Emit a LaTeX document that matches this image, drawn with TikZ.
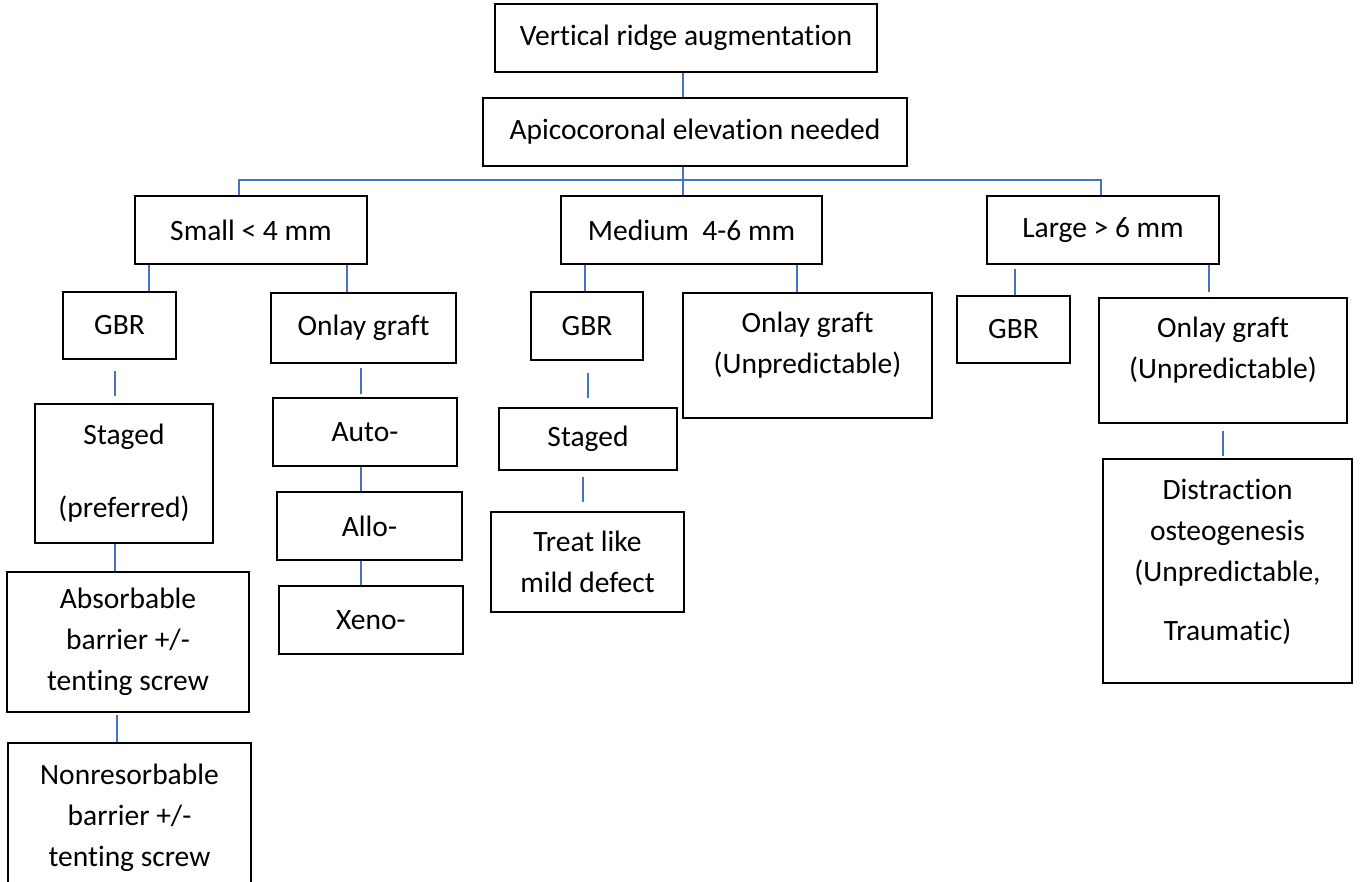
\documentclass[tikz,border=0pt]{standalone}
\usepackage{fontspec}
\setmainfont[Ligatures={NoCommon}]{Carlito}
\definecolor{connblue}{RGB}{68,114,196}
\tikzset{
  box/.style={draw=black, line width=2pt, rectangle, inner sep=0pt, align=center,
    font=\fontsize{29.5}{41}\selectfont},
  conn/.style={draw=connblue, line width=1.6pt}
}
\begin{document}
\begin{tikzpicture}[x=1pt,y=-1pt]
\useasboundingbox (0,0) rectangle (1360,881);
\clip (0,0) rectangle (1360,881);
\fill[white] (0,0) rectangle (1360,881);

% level 0-1
\node[box, minimum width=382, minimum height=68] (vra) at (686,38) {Vertical ridge augmentation};
\node[box, minimum width=424, minimum height=68] (apc) at (695,132) {Apicocoronal elevation needed};

% level 2
\node[box, minimum width=232, minimum height=68] (small) at (251,230) {Small < 4 mm};
\node[box, minimum width=261, minimum height=68] (medium) at (691.5,230) {Medium~ 4-6 mm};
\node[box, minimum width=232, minimum height=68] (large) at (1103,230) {Large > 6 mm};

% level 3
\node[box, minimum width=113, minimum height=67] (gbrS) at (119.5,325.5) {GBR};
\node[box, minimum width=185, minimum height=70] (onlayS) at (363.5,328) {Onlay graft};
\node[box, minimum width=112, minimum height=68] (gbrM) at (587,326) {GBR};
\node[box, minimum width=249, minimum height=125] (onlayM) at (807.5,355.5) {Onlay graft\\(Unpredictable)\\[-16pt]\mbox{}};
\node[box, minimum width=113, minimum height=67] (gbrL) at (1013.5,329.5) {GBR};
\node[box, minimum width=248, minimum height=125] (onlayL) at (1223,360.5) {Onlay graft\\(Unpredictable)\\[-16pt]\mbox{}};

% small branch
\node[box, minimum width=178, minimum height=139] (stagedS) at (124,473.5) {Staged\\[32pt](preferred)};
\node[box, minimum width=242, minimum height=140] (absorb) at (128,642) {Absorbable\\barrier +/-\\tenting screw};
\node[box, minimum width=243, minimum height=150] (nonres) at (129.5,818) {Nonresorbable\\barrier +/-\\tenting screw};
\node[box, minimum width=184, minimum height=68] (auto) at (365,432) {Auto-};
\node[box, minimum width=185, minimum height=68] (allo) at (369.5,526) {Allo-};
\node[box, minimum width=184, minimum height=68] (xeno) at (371,620) {Xeno-};

% medium branch
\node[box, minimum width=178, minimum height=62] (stagedM) at (588,439) {Staged};
\node[box, minimum width=193, minimum height=100] (treat) at (587.5,562) {Treat like\\mild defect};

% large branch
\node[box, minimum width=249, minimum height=224] (distr) at (1227.5,571) {Distraction\\osteogenesis\\(Unpredictable,\\[18pt]Traumatic)\\[-18pt]\mbox{}};

% connectors
\draw[conn] ([xshift=-3pt]vra.south) -- ([xshift=-3pt]vra.south |- apc.north);
\coordinate (busL) at (239,180);
\coordinate (busR) at (1101,180);
\draw[conn] ([xshift=-12pt]apc.south) -- ([xshift=-12pt]apc.south |- medium.north);
\draw[conn] (busL |- small.north) -- (busL) -- (busR) -- (busR |- large.north);

\draw[conn] ([xshift=29.5pt]gbrS.north) -- ([xshift=29.5pt]gbrS.north |- small.south);
\draw[conn] ([xshift=-16.5pt]onlayS.north) -- ([xshift=-16.5pt]onlayS.north |- small.south);
\draw[conn] ([xshift=-9pt,yshift=7pt]stagedS.north) -- ([xshift=-9pt,yshift=-11pt]stagedS.north |- gbrS.south);
\draw[conn] ([xshift=-13pt]absorb.north) -- ([xshift=-13pt]absorb.north |- stagedS.south);
\draw[conn] ([xshift=-12.5pt]nonres.north) -- ([xshift=-12.5pt,yshift=-2pt]nonres.north |- absorb.south);
\draw[conn] ([xshift=-4pt,yshift=3pt]auto.north) -- ([xshift=-4pt,yshift=-4pt]auto.north |- onlayS.south);
\draw[conn] ([xshift=-8.5pt]allo.north) -- ([xshift=-8.5pt]allo.north |- auto.south);
\draw[conn] ([xshift=-10pt]xeno.north) -- ([xshift=-10pt]xeno.north |- allo.south);

\draw[conn] ([xshift=-2pt]gbrM.north) -- ([xshift=-2pt]gbrM.north |- medium.south);
\draw[conn] ([xshift=-10.5pt]onlayM.north) -- ([xshift=-10.5pt]onlayM.north |- medium.south);
\draw[conn] ([yshift=9pt]stagedM.north) -- ([yshift=-12pt]stagedM.north |- gbrM.south);
\draw[conn] ([xshift=-4.5pt,yshift=9pt]treat.north) -- ([xshift=-4.5pt,yshift=-6pt]treat.north |- stagedM.south);

\draw[conn] ([xshift=1.5pt]gbrL.north) -- ([xshift=1.5pt,yshift=-4pt]gbrL.north |- large.south);
\draw[conn] ([xshift=-14pt,yshift=5pt]onlayL.north) -- ([xshift=-14pt]onlayL.north |- large.south);
\draw[conn] ([xshift=-4.5pt,yshift=2pt]distr.north) -- ([xshift=-4.5pt,yshift=-7pt]distr.north |- onlayL.south);
\end{tikzpicture}
\end{document}
